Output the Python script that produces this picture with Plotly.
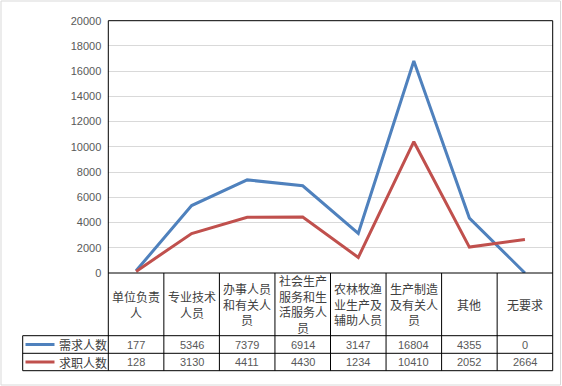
import plotly.graph_objects as go

categories = ["单位负责人", "专业技术人员", "办事人员和有关人员", "社会生产服务和生活服务人员",
              "农林牧渔业生产及辅助人员", "生产制造及有关人员", "其他", "无要求"]
series_names = ["需求人数", "求职人数"]
demand = [177, 5346, 7379, 6914, 3147, 16804, 4355, 0]
seekers = [128, 3130, 4411, 4430, 1234, 10410, 2052, 2664]
y_ticks = [0, 2000, 4000, 6000, 8000, 10000, 12000, 14000, 16000, 18000, 20000]

W, H = 562, 386
colors = ["#4f81bd", "#c0504d"]

# pixel layout
PL, PR, PT, PB = 108.3, 552.7, 20.7, 273.0
LEG_L = 22.7
ROW1, ROW2, ROW3 = 335.7, 353.3, 370.7

def px(x):
    return x / W

def py(y):
    return 1 - y / H

fig = go.Figure()
xs = list(range(len(categories)))
for name, vals, c in zip(series_names, [demand, seekers], colors):
    fig.add_trace(go.Scatter(x=xs, y=vals, mode="lines", name=name,
                             line=dict(color=c, width=3), showlegend=False))

fig.update_layout(
    width=W, height=H, margin=dict(l=0, r=0, t=0, b=0, autoexpand=False),
    paper_bgcolor="white", plot_bgcolor="white",
    font=dict(family="Noto Sans CJK SC, sans-serif", color="#404040"),
    xaxis=dict(domain=[px(PL), px(PR)], range=[-0.5, len(categories) - 0.5],
               showticklabels=False, showgrid=False, zeroline=False, showline=False),
    yaxis=dict(domain=[py(PB), py(PT)], range=[0, 20000], tickvals=y_ticks,
               ticktext=[str(v) for v in y_ticks],
               tickfont=dict(family="Liberation Sans", size=11, color="#595959"),
               showgrid=True, gridcolor="#d9d9d9", gridwidth=1, zeroline=False,
               showline=False, ticklabelstandoff=6),
)

shapes = []
def line(x0, y0, x1, y1, color="black", width=1):
    shapes.append(dict(type="line", xref="paper", yref="paper",
                       x0=px(x0), y0=py(y0), x1=px(x1), y1=py(y1),
                       line=dict(color=color, width=width)))

# outer border
shapes.append(dict(type="rect", xref="paper", yref="paper", x0=px(1), y0=py(385), x1=px(560.5), y1=py(1),
                   line=dict(color="#d9d9d9", width=1)))
# plot area border
line(PL, PT, PR, PT)
line(PL, PT, PL, ROW3)
line(PR, PT, PR, ROW3)
line(PL, PB, PR, PB)
# table horizontal lines
for yy in [ROW1, ROW2, ROW3]:
    line(LEG_L, yy, PR, yy)
line(LEG_L, ROW1, LEG_L, ROW3)
colw = (PR - PL) / len(categories)
for i in range(1, len(categories)):
    line(PL + i * colw, PB, PL + i * colw, ROW3)
# legend keys
for yy, c in zip([(ROW1 + ROW2) / 2, (ROW2 + ROW3) / 2], colors):
    line(25.5, yy, 54.5, yy, color=c, width=3)
fig.update_layout(shapes=shapes)

def wrap(s, n=4):
    return "<br>".join(s[i:i + n] for i in range(0, len(s), n))

ann = []
for i, cat in enumerate(categories):
    cx = PL + (i + 0.5) * colw
    ann.append(dict(text=wrap(cat), x=px(cx), y=py((PB + ROW1) / 2), xref="paper", yref="paper",
                    showarrow=False, xanchor="center", yanchor="middle",
                    font=dict(size=12, color="#404040")))
    for vals, yy in [(demand, (ROW1 + ROW2) / 2), (seekers, (ROW2 + ROW3) / 2)]:
        ann.append(dict(text=str(vals[i]), x=px(cx), y=py(yy), xref="paper", yref="paper",
                        showarrow=False, xanchor="center", yanchor="middle",
                        font=dict(family="Liberation Sans", size=11, color="#595959")))
for name, yy in zip(series_names, [(ROW1 + ROW2) / 2, (ROW2 + ROW3) / 2]):
    ann.append(dict(text=name, x=px(57), y=py(yy), xref="paper", yref="paper",
                    showarrow=False, xanchor="left", yanchor="middle",
                    font=dict(size=12, color="#404040")))
fig.update_layout(annotations=ann)

fig.write_html("out.html", config={"displayModeBar": False},
               post_script="document.body.style.margin='0';document.body.style.overflow='hidden';")
